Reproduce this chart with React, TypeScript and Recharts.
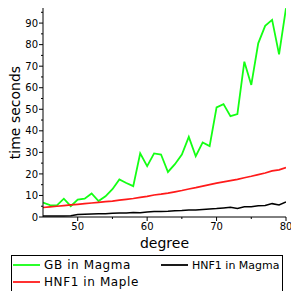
import React from 'react';
import { LineChart, Line, XAxis, YAxis, Label } from 'recharts';

const degrees = [45,46,47,48,49,50,51,52,53,54,55,56,57,58,59,60,61,62,63,64,65,66,67,68,69,70,71,72,73,74,75,76,77,78,79,80];
const gbMagma = [6.7,5.5,5.4,8.5,5.0,8.1,8.5,10.9,7.4,9.6,12.9,17.4,15.8,14.3,29.5,23.6,29.5,29.0,20.9,24.5,29.0,37.2,28.2,34.6,32.9,50.9,52.4,46.8,47.8,72.1,61.3,80.6,88.7,91.5,75.5,96.9];
const hnfMaple = [4.4,4.7,5.0,5.3,5.6,5.9,6.2,6.5,6.8,7.1,7.4,7.8,8.2,8.6,9.1,9.6,10.2,10.6,11.1,11.7,12.3,13.0,13.6,14.3,15.0,15.7,16.3,16.9,17.5,18.2,18.9,19.7,20.4,21.4,21.9,22.9];
const hnfMagma = [0.5,0.5,0.5,0.5,0.6,1.2,1.3,1.4,1.5,1.5,1.7,1.8,1.9,2.1,2.0,2.3,2.5,2.6,2.7,2.9,3.0,3.3,3.2,3.5,3.7,3.9,4.2,4.5,4.0,4.8,4.8,5.2,5.3,6.2,5.6,7.0];

const yTicks = [0,5,10,15,20,25,30,35,40,45,50,55,60,65,70,75,80,85,90,95];
const yLabels = [0,10,20,30,40,50,60,70,80,90];
const xTicks = [50,55,60,65,70,75,80];
const xLabels = [50,60,70,80];

const seriesNames = { gb: 'GB in Magma', maple: 'HNF1 in Maple', magma: 'HNF1 in Magma' };
const colors = { gb: '#14ff14', maple: '#ff1a1a', magma: '#000000' };

const data = degrees.map((d, i) => ({ degree: d, gb: gbMagma[i], maple: hnfMaple[i], magma: hnfMagma[i] }));

const FONT = '"DejaVu Sans", sans-serif';

const YTick = (props: any) => {
  const { x, y, payload } = props;
  const v = payload.value;
  const major = yLabels.includes(v);
  const axisX = x + 5;
  return (
    <g>
      <line x1={axisX - (major ? 4 : 2)} x2={axisX} y1={y} y2={y} stroke="#000" strokeWidth={1} />
      {major && (
        <text x={x} y={y} dy="0.36em" textAnchor="end" fontSize={10} fontFamily={FONT} fill="#000">{v}</text>
      )}
    </g>
  );
};

const XTick = (props: any) => {
  const { x, y, payload } = props;
  const v = payload.value;
  const major = xLabels.includes(v);
  const axisY = y - 6;
  return (
    <g>
      <line x1={x} x2={x} y1={axisY} y2={axisY + (major ? 4 : 2)} stroke="#000" strokeWidth={1} />
      {major && (
        <text x={x} y={y} dy="0.74em" textAnchor="middle" fontSize={10} fontFamily={FONT} fill="#000">{v}</text>
      )}
    </g>
  );
};

const legendItems = [
  { key: 'gb', lx: 2, ty: 10, fs: 12, ls: 0.6 },
  { key: 'magma', lx: 150, ty: 10, fs: 11, ls: 0 },
  { key: 'maple', lx: 2, ty: 27, fs: 12, ls: 0.6 },
];

export default function App() {
  return (
    <div style={{ position: 'absolute', left: 0, top: 0, width: 291, height: 291, overflow: 'hidden', background: '#fff' }}>
      <LineChart width={291} height={291} data={data} margin={{ top: 8, right: 5, left: 0, bottom: 38 }}>
        <XAxis
          dataKey="degree"
          type="number"
          domain={[45, 80]}
          ticks={xTicks}
          interval={0}
          tick={<XTick />}
          tickLine={false}
          tickSize={4}
          tickMargin={2}
          height={36}
          stroke="#000"
          allowDataOverflow
        >
          <Label value="degree" position="insideBottom" offset={5} style={{ fontFamily: FONT, fontSize: 14, fill: '#000' }} />
        </XAxis>
        <YAxis
          type="number"
          domain={[0, 97]}
          ticks={yTicks}
          interval={0}
          tick={<YTick />}
          tickLine={false}
          tickSize={4}
          tickMargin={1}
          width={43}
          stroke="#000"
          allowDataOverflow
        >
          <Label value="time seconds" angle={-90} position="insideLeft" offset={15} style={{ fontFamily: FONT, fontSize: 14, fill: '#000', textAnchor: 'middle' }} />
        </YAxis>
        <Line dataKey="gb" stroke={colors.gb} strokeWidth={1.8} dot={false} isAnimationActive={false} />
        <Line dataKey="maple" stroke={colors.maple} strokeWidth={1.7} dot={false} isAnimationActive={false} />
        <Line dataKey="magma" stroke={colors.magma} strokeWidth={1.5} dot={false} isAnimationActive={false} />
      </LineChart>
      <svg style={{ position: 'absolute', left: 11, top: 255 }} width={272} height={40}>
        <rect x={0.5} y={0.5} width={271} height={45} fill="none" stroke="#000" strokeWidth={1} />
        {legendItems.map((it) => (
          <g key={it.key}>
            <line x1={it.lx} x2={it.lx + 27} y1={it.ty} y2={it.ty} stroke={(colors as any)[it.key]} strokeWidth={1.8} />
            <text
              x={it.lx + 31}
              y={it.ty}
              dy="0.36em"
              fontFamily={FONT}
              fontSize={it.fs}
              letterSpacing={it.ls}
              fill="#000"
            >
              {(seriesNames as any)[it.key]}
            </text>
          </g>
        ))}
      </svg>
    </div>
  );
}
